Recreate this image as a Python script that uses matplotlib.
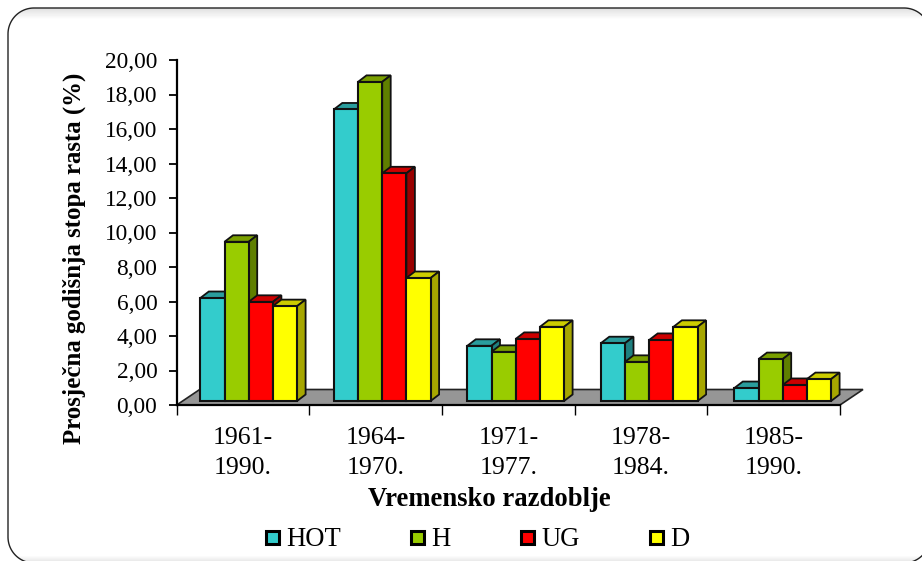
#!/bin/python3

import numpy as np
import matplotlib
matplotlib.use("Agg")
import matplotlib.pyplot as plt
from matplotlib.patches import Polygon, Rectangle

plt.rcParams["font.family"] = ["Liberation Serif", "DejaVu Serif"]

W, H = 922, 561

razdoblja = ["1961-\n1990.", "1964-\n1970.", "1971-\n1977.", "1978-\n1984.", "1985-\n1990."]
serije = ["HOT", "H", "UG", "D"]
hot = [5.97, 16.9, 3.2, 3.35, 0.75]
h = [9.23, 18.5, 2.85, 2.27, 2.43]
ug = [5.75, 13.2, 3.6, 3.54, 0.93]
d = [5.5, 7.13, 4.3, 4.3, 1.27]
y_ticks = [0, 2, 4, 6, 8, 10, 12, 14, 16, 18, 20]

boje = ["#33cccc", "#99cc00", "#ff0000", "#ffff00"]
boje_vrh = ["#2a9d9d", "#7a9f00", "#cc0000", "#cccc00"]
boje_bok = ["#1f8080", "#5f7f00", "#990000", "#a6a600"]


def zaobljeni_okvir(x0, y0, x1, y1, r):
    # obicna polilinija jer agg krivo reze bezier krivulje izvan slike
    t = np.linspace(0, np.pi / 2, 30)
    kutovi = [
        (x0 + r - r * np.cos(t), y0 + r - r * np.sin(t)),
        (x1 - r + r * np.sin(t), y0 + r - r * np.cos(t)),
        (x1 - r + r * np.cos(t), y1 - r + r * np.sin(t)),
        (x0 + r - r * np.sin(t), y1 - r + r * np.cos(t)),
    ]
    return np.vstack([np.column_stack(k) for k in kutovi])


fig = plt.figure(figsize=(W / 100, H / 100), dpi=100, facecolor="white")

# okvir s blagim sjencanjem
bg = fig.add_axes([0, 0, 1, 1], zorder=0)
bg.set_xlim(0, W)
bg.set_ylim(H, 0)
bg.axis("off")
okvir = Polygon(zaobljeni_okvir(8, 8, 930, 563, 26), closed=True, fc="none", ec="#222222", lw=1.0, zorder=3)
gradijent = np.ones((H, 1))
gradijent[8:20, 0] = np.linspace(0.88, 1.0, 12)
gradijent[555:, 0] = np.linspace(1.0, 0.92, H - 555)
slika = bg.imshow(gradijent, extent=(0, W, H, 0), cmap="gray", vmin=0, vmax=1, aspect="auto", zorder=1)
bg.add_patch(okvir)
slika.set_clip_path(okvir)

# glavne osi: od x=176.7 do 840 i od y=405 do 60 piksela
ax = fig.add_axes([176.7 / W, 1 - 405 / H, (840 - 176.7) / W, (405 - 60) / H], zorder=2)
ax.patch.set_alpha(0)
ax.set_xlim(0, 5)
ax.set_ylim(0, 20)

px_x = 5 / (840 - 176.7)
px_y = 20 / (405 - 60)

# pod grafa
pod_dx, pod_dy = 23 * px_x, 15.5 * px_y
ax.add_patch(Polygon([(0, 0), (5, 0), (5 + pod_dx, pod_dy), (pod_dx, pod_dy)], closed=True,
                     fc="#969696", ec="#222222", lw=1.2, clip_on=False, zorder=1))

sirina = 24.2 * px_x
dubina_x, dubina_y = 8.5 * px_x, 6.5 * px_y
dno = 4 * px_y
pomak = 23.6 * px_x
korak = 133.5 * px_x

for s, vrijednosti in enumerate([hot, h, ug, d]):
    for i, v in enumerate(vrijednosti):
        x0 = pomak + i * korak + s * sirina
        x1 = x0 + sirina
        top = dno + v
        z = 3 + s + i * 10
        ax.bar(x0, v, sirina, bottom=dno, align="edge", color=boje[s], edgecolor="#111111",
               linewidth=1.5, zorder=z + 0.5, clip_on=False)
        ax.add_patch(Polygon([(x0, top), (x1, top), (x1 + dubina_x, top + dubina_y), (x0 + dubina_x, top + dubina_y)],
                             closed=True, fc=boje_vrh[s], ec="#111111", lw=1.3, zorder=z, clip_on=False))
        ax.add_patch(Polygon([(x1, dno), (x1 + dubina_x, dno + dubina_y), (x1 + dubina_x, top + dubina_y), (x1, top)],
                             closed=True, fc=boje_bok[s], ec="#111111", lw=1.3, zorder=z, clip_on=False))

ax.spines["top"].set_visible(False)
ax.spines["right"].set_visible(False)
ax.spines["left"].set_linewidth(1.6)
ax.spines["bottom"].set_linewidth(1.6)

ax.set_yticks(y_ticks)
ax.set_yticklabels([f"{t:.2f}".replace(".", ",") for t in y_ticks], fontsize=16.8)
ax.set_xticks(range(6))
ax.set_xticklabels([])
ax.tick_params(axis="y", length=6, width=1.3, pad=8)
ax.tick_params(axis="x", length=7, width=1.0)
for i, r in enumerate(razdoblja):
    ax.text(i + 0.5, -1.3, r, ha="center", va="top", fontsize=18.5, linespacing=1.45)

fig.text(74 / W, 1 - 258 / H, "Prosječna godišnja stopa rasta (%)", rotation=90, ha="center", va="center",
         fontsize=17.9, fontweight="bold")
fig.text(489 / W, 1 - 500 / H, "Vremensko razdoblje", ha="center", va="center", fontsize=19.2, fontweight="bold")

# legenda
legenda_x = [266, 411, 521, 650]
for naziv, boja, lx in zip(serije, boje, legenda_x):
    bg.add_patch(Rectangle((lx, 531), 13, 13, fc=boja, ec="black", lw=2.2, zorder=4))
    bg.text(lx + 20, 537, naziv, ha="left", va="center_baseline", fontsize=19.2, zorder=4)

fig.savefig("out.png", dpi=100)
